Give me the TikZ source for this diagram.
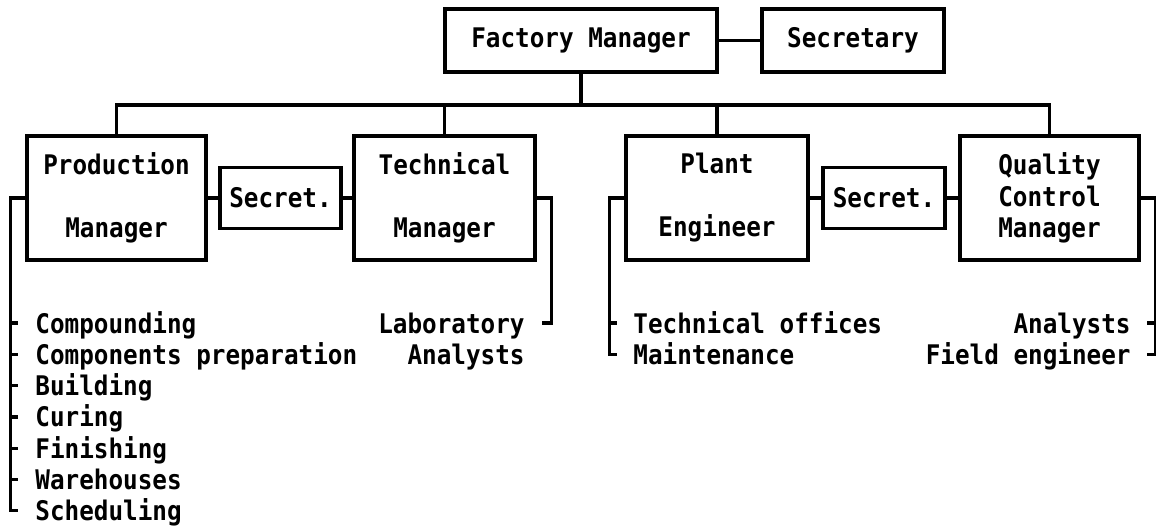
\documentclass[tikz,border=0pt]{standalone}
\usepackage{fontspec}
\newfontfamily\chartfont[FakeStretch=0.9]{DejaVu Sans Mono}

\tikzset{
    unit/.style={draw, line width=1.6pt, align=center, inner sep=0pt},
    link/.style={line width=1.6pt},
    item/.style={inner sep=0pt, text height=10pt, text depth=0pt}
}

\begin{document}
\begin{tikzpicture}[x=0.5pt, y=-0.5pt, font=\chartfont\bfseries\fontsize{13.5}{15.75}\selectfont]
    \useasboundingbox (0,0) rectangle (1156,526);
    % Top level
    \node[unit, minimum width=136pt, minimum height=31.5pt] (fm) at (581,40.5) {Factory Manager};
    \node[unit, minimum width=91pt, minimum height=31.5pt] (sec) at (853,40.5) {Secretary};
    \draw[link] (fm) -- (sec);
    % Second level
    \node[unit, minimum width=89.5pt, minimum height=62pt] (pm) at (116.5,198) {Production\\ \strut\\Manager};
    \node[unit, minimum width=60.5pt, minimum height=30.5pt] (secA) at (280.5,198) {Secret.};
    \node[unit, minimum width=90.5pt, minimum height=62pt] (tm) at (444.5,198) {Technical\\ \strut\\Manager};
    \node[unit, minimum width=91pt, minimum height=62pt] (pe) at (717,198) {Plant\\ \strut\\Engineer};
    \node[unit, minimum width=61pt, minimum height=30.5pt] (secB) at (884,198) {Secret.};
    \node[unit, minimum width=89.5pt, minimum height=62pt] (qcm) at (1049.5,198) {Quality\\Control\\Manager};
    \draw[link] (pm.east) -- (secA.west);
    \draw[link] (secA.east) -- (tm.west);
    \draw[link] (pe.east) -- (secB.west);
    \draw[link] (secB.east) -- (qcm.west);
    % Bus
    \coordinate (bus) at (0,105);
    \draw[link] (fm.south) -- (fm.south |- bus);
    \draw[link] (pm.north) |- (bus -| qcm.north) -- (qcm.north);
    \draw[link] (tm.north) -- (tm.north |- bus);
    \draw[link] (pe.north) -- (pe.north |- bus);
    % Production departments
    \foreach \name [count=\i] in {Compounding, Components preparation, Building, Curing, Finishing, Warehouses, Scheduling} {
        \node[item, anchor=west] (pd\i) at (35, {323+31.3*(\i-1)}) {\name};
    }
    \draw[link] (pm.west) -- ++(-15,0) |- ([xshift=-8.5pt]pd7.west);
    \foreach \i in {1,...,6} {
        \draw[link] ([xshift=-11.5pt]pd\i.west) -- ([xshift=-8.5pt]pd\i.west);
    }
    % Technical
    \node[item, anchor=east] (td1) at (525,323) {Laboratory};
    \node[item, anchor=east] (td2) at (525,354.3) {Analysts};
    \draw[link] (tm.east) -- ++(15,0) |- ([xshift=8.5pt]td1.east);
    % Plant
    \node[item, anchor=west] (pl1) at (633,323) {Technical offices};
    \node[item, anchor=west] (pl2) at (633,354.3) {Maintenance};
    \draw[link] (pe.west) -- ++(-15,0) |- ([xshift=-8pt]pl2.west);
    \draw[link] ([xshift=-11pt]pl1.west) -- ([xshift=-8pt]pl1.west);
    % Quality control
    \node[item, anchor=east] (ql1) at (1131,323) {Analysts};
    \node[item, anchor=east] (ql2) at (1131,354.3) {Field engineer};
    \draw[link] (qcm.east) -- ++(15,0) |- ([xshift=8pt]ql2.east);
    \draw[link] ([xshift=11.5pt]ql1.east) -- ([xshift=8pt]ql1.east);
\end{tikzpicture}
\end{document}
